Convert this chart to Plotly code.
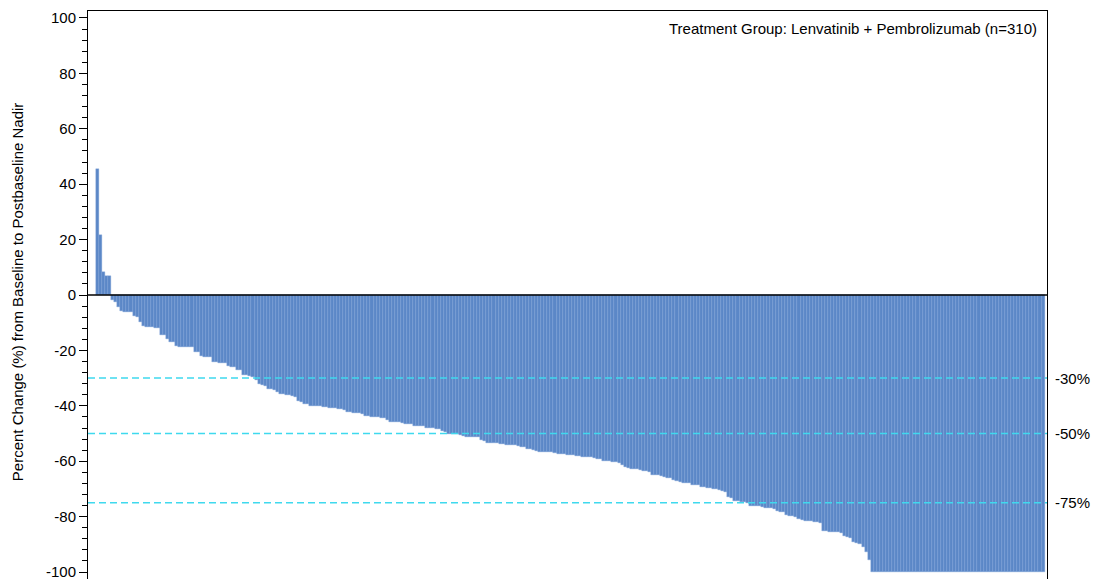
import plotly.graph_objects as go

# Percent change from baseline to postbaseline nadir, sorted (one bar per patient, n=310)
positive_values = [45.5, 21.6, 8.4, 6.9, 6.8]
negative_values = [
    -1.8, -2.6, -4.2, -5.6, -6.0, -6.0, -6.2, -7.6, -7.8, -9.6,
    -11.2, -11.5, -11.7, -11.7, -11.8, -12.0, -14.3, -14.6, -15.8, -16.9,
    -17.0, -18.5, -18.6, -18.7, -18.7, -18.8, -18.9, -20.4, -20.6, -22.0,
    -22.2, -22.4, -22.5, -24.2, -24.3, -24.4, -24.5, -24.6, -25.8, -25.9,
    -26.0, -27.0, -27.2, -28.9, -29.0, -29.3, -29.5, -30.7, -32.3, -32.5,
    -32.7, -34.0, -34.1, -34.2, -34.9, -35.6, -35.8, -36.1, -36.2, -36.6,
    -36.8, -38.4, -38.6, -39.3, -39.5, -40.0, -40.1, -40.1, -40.2, -40.5,
    -40.6, -40.7, -40.8, -40.9, -41.2, -41.3, -41.4, -42.3, -42.4, -42.5,
    -42.7, -42.7, -42.8, -43.5, -43.7, -44.0, -44.1, -44.2, -44.3, -44.4,
    -45.1, -45.8, -45.9, -46.0, -46.0, -46.1, -46.5, -46.6, -46.7, -47.1,
    -47.2, -47.2, -47.3, -47.9, -48.0, -48.1, -48.2, -48.3, -49.2, -49.4,
    -50.0, -50.1, -50.2, -50.3, -50.4, -51.0, -51.1, -51.2, -51.2, -51.3,
    -51.4, -52.5, -52.7, -53.3, -53.4, -53.5, -53.5, -53.6, -53.7, -54.0,
    -54.1, -54.2, -54.3, -54.4, -54.7, -54.9, -55.5, -55.7, -55.8, -56.4,
    -56.5, -56.6, -56.6, -56.7, -56.8, -57.2, -57.3, -57.4, -57.5, -57.6,
    -57.8, -57.9, -58.0, -58.2, -58.3, -58.4, -58.5, -58.6, -59.0, -59.1,
    -59.2, -59.8, -59.9, -60.0, -60.3, -60.4, -60.5, -61.4, -62.2, -62.4,
    -62.7, -62.8, -62.9, -63.3, -63.4, -63.6, -63.7, -64.8, -64.9, -65.1,
    -65.2, -65.8, -65.9, -66.0, -66.9, -67.1, -67.6, -67.7, -67.9, -68.0,
    -68.5, -68.6, -68.7, -69.2, -69.3, -69.5, -69.6, -70.0, -70.1, -70.2,
    -70.9, -71.1, -72.8, -73.2, -74.3, -74.5, -74.6, -74.7, -74.9, -76.0,
    -76.1, -76.2, -76.3, -76.4, -76.9, -77.0, -77.0, -77.1, -78.0, -78.2,
    -78.4, -79.5, -79.7, -79.9, -80.1, -80.9, -81.1, -81.5, -81.6, -81.7,
    -81.8, -82.1, -82.3, -85.2, -85.3, -85.4, -85.4, -85.5, -85.6, -86.0,
    -87.1, -87.3, -87.8, -89.1, -89.5, -89.7, -90.9, -92.7, -95.7, -100.0,
    -100.0, -100.0, -100.0, -100.0, -100.0, -100.0, -100.0, -100.0, -100.0, -100.0,
    -100.0, -100.0, -100.0, -100.0, -100.0, -100.0, -100.0, -100.0, -100.0, -100.0,
    -100.0, -100.0, -100.0, -100.0, -100.0, -100.0, -100.0, -100.0, -100.0, -100.0,
    -100.0, -100.0, -100.0, -100.0, -100.0, -100.0, -100.0, -100.0, -100.0, -100.0,
    -100.0, -100.0, -100.0, -100.0, -100.0, -100.0, -100.0, -100.0, -100.0, -100.0,
    -100.0, -100.0, -100.0, -100.0, -100.0, -100.0,
]
values = positive_values + negative_values
patients = list(range(len(values)))

threshold_values = [-30, -50, -75]
threshold_labels = ["-30%", "-50%", "-75%"]
y_tick_values = [-100, -80, -60, -40, -20, 0, 20, 40, 60, 80, 100]
y_tick_labels = ["-100", "-80", "-60", "-40", "-20", "0", "20", "40", "60", "80", "100"]

title_text = "Treatment Group: Lenvatinib + Pembrolizumab (n=310)"
y_title = "Percent Change (%) from Baseline to Postbaseline Nadir"

FONT = "Liberation Sans, Arial, sans-serif"
BAR = "#5b87c7"
TXT = "#000000"

fig = go.Figure()
fig.add_trace(go.Bar(
    x=patients, y=values,
    marker=dict(color=BAR, line=dict(color="#7fa3d8", width=0.4)),
    width=1.0,
    hoverinfo="y",
))

shapes = []
for t in threshold_values:
    shapes.append(dict(type="line", xref="paper", yref="y", x0=0, x1=1, y0=t, y1=t,
                       line=dict(color="#3fd9ee", width=1.5, dash="7px,4px"), layer="above"))
# zero reference line
shapes.append(dict(type="line", xref="paper", yref="y", x0=0, x1=1, y0=0, y1=0,
                   line=dict(color="black", width=1.5), layer="above"))

annotations = []
for t, lab in zip(threshold_values, threshold_labels):
    annotations.append(dict(x=1.0, y=t, xref="paper", yref="y", text=lab, showarrow=False,
                            xanchor="left", yanchor="middle", xshift=6,
                            font=dict(family=FONT, size=15, color=TXT)))
annotations.append(dict(x=1.0, y=1.0, xref="paper", yref="paper", text=title_text, showarrow=False,
                        xanchor="right", yanchor="top", xshift=-8, yshift=-7,
                        font=dict(family=FONT, size=15, color=TXT)))
annotations.append(dict(x=-0.074, y=0.505, xref="paper", yref="paper", text=y_title, showarrow=False,
                        textangle=-90, xanchor="center", yanchor="middle",
                        font=dict(family=FONT, size=15, color=TXT)))

fig.update_layout(
    width=1095, height=579,
    margin=dict(l=88, r=48, t=11, b=0),
    paper_bgcolor="white", plot_bgcolor="white",
    bargap=0,
    showlegend=False,
    hovermode=False,
    shapes=shapes,
    annotations=annotations,
    xaxis=dict(range=[-3.1, 311.3], showticklabels=False, ticks="", showgrid=False,
               zeroline=False, side="top", showline=True, linecolor="black", linewidth=1),
    yaxis=dict(range=[-102.5, 102.5], tickmode="array", tickvals=y_tick_values, ticktext=y_tick_labels,
               ticks="outside", ticklen=8, tickwidth=1, tickcolor="black",
               minor=dict(dtick=4, tick0=0, ticks="outside", ticklen=5, tickcolor="black", tickwidth=1),
               showgrid=False, zeroline=False, showline=True, mirror=True,
               linecolor="black", linewidth=1, automargin=False, ticklabeloverflow="allow",
               tickfont=dict(family=FONT, size=15, color=TXT)),
)

# remove the default page margin so the figure fills the window exactly
fig.write_html("out.html",
               config={"displayModeBar": False},
               post_script="document.body.style.margin='0';document.body.style.overflow='hidden';")
